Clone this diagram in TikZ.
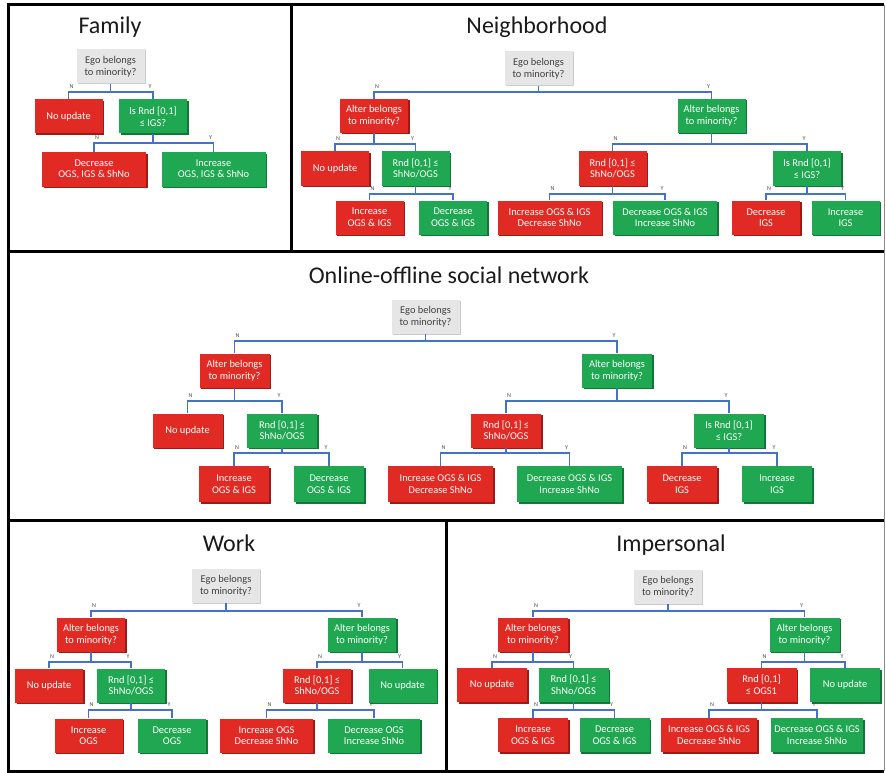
\documentclass[tikz,border=0pt]{standalone}
\usepackage{fontspec}
\setmainfont{Carlito}
\usetikzlibrary{shadows}
\definecolor{boxred}{HTML}{E12A24}
\definecolor{boxredd}{HTML}{9E1A16}
\definecolor{boxgreen}{HTML}{1FA851}
\definecolor{boxgreend}{HTML}{127636}
\definecolor{boxgray}{HTML}{E6E6E6}
\definecolor{conncol}{HTML}{4472C4}
\definecolor{titlecol}{HTML}{1A1A1A}
\tikzset{
  box/.style={rectangle, minimum height=34pt, minimum width=68pt, inner sep=1pt,
    align=center, font=\fontsize{10.4}{11.6}\selectfont, text=white},
  redbox/.style={box, fill=boxred, drop shadow={shadow xshift=1.5pt, shadow yshift=-1.5pt, fill=boxredd, opacity=1}},
  greenbox/.style={box, fill=boxgreen, drop shadow={shadow xshift=1.5pt, shadow yshift=-1.5pt, fill=boxgreend, opacity=1}},
  graybox/.style={box, fill=boxgray, text=black!75, drop shadow={shadow xshift=1pt, shadow yshift=-1pt, fill=black!20, opacity=1}},
  wide/.style={minimum width=104pt},
  conn/.style={draw=conncol, line width=1.3pt},
  yn/.style={font=\fontsize{6}{6.5}\selectfont, text=black!70, inner sep=0pt},
  ttl/.style={font=\fontsize{24}{26}\selectfont, text=titlecol, inner sep=0pt},
  frame/.style={line width=3pt, black},
}
\newcommand{\fork}[4]{%
  \coordinate (#1bar) at (0,#4);
  \draw[conn] (#1.south) -- (#1.south |- #1bar);
  \draw[conn] (#2.north) |- (#3.north |- #1bar) -- (#3.north);
  \node[yn] (#1N) at ([xshift=3pt,yshift=5.5pt]#2.north |- #1bar) {N};
  \node[yn] (#1Y) at ([xshift=-3pt,yshift=5.5pt]#3.north |- #1bar) {Y};
}
\begin{document}
\begin{tikzpicture}[x=1pt,y=-1pt]
\useasboundingbox (0,0) rectangle (886,773);
\fill[white] (0,0) rectangle (886,773);
% frames
\draw[black!45, line width=0.8pt] (884,5) -- (884,771);
\draw[frame] (884,5) -- (8,5) -- (8,771) -- (884,771);
\draw[frame] (291,5) -- (291,251.5);
\draw[frame] (8,251.5) -- (884,251.5);
\draw[frame] (8,520) -- (884,520);
\draw[frame] (446.5,520) -- (446.5,771);

% ---------------- Family
\node[ttl] (tf) at (110,27) {Family};
\node[graybox] (fe) at (110.5,66.5) {Ego belongs\\to minority?};
\node[redbox] (fn) at (68.5,116.5) {No update};
\node[greenbox] (fr) at (153,116.5) {Is Rnd [0,1]\\≤ IGS?};
\node[redbox, wide] (fd) at (94,169.5) {Decrease\\OGS, IGS \& ShNo};
\node[greenbox, wide] (fi) at (213.5,169.5) {Increase\\OGS, IGS \& ShNo};
\fork{fe}{fn}{fr}{92}
\fork{fr}{fd}{fi}{143}

% ---------------- Neighborhood
\node[ttl] (tn) at (537,27) {Neighborhood};
\node[graybox] (ne) at (538.5,68.5) {Ego belongs\\to minority?};
\node[redbox] (na) at (374,116) {Alter belongs\\to minority?};
\node[greenbox] (nb) at (711.5,116) {Alter belongs\\to minority?};
\node[redbox] (nn) at (335,168.5) {No update};
\node[greenbox] (nr) at (415.5,168.5) {Rnd [0,1] ≤\\ShNo/OGS};
\node[redbox] (nrr) at (612.5,168.5) {Rnd [0,1] ≤\\ShNo/OGS};
\node[greenbox] (ni) at (807,168.5) {Is Rnd [0,1]\\≤ IGS?};
\node[redbox] (na1) at (369.5,217.5) {Increase\\OGS \& IGS};
\node[greenbox] (na2) at (453,217.5) {Decrease\\OGS \& IGS};
\node[redbox, wide] (na3) at (549.5,217.5) {Increase OGS \& IGS\\Decrease ShNo};
\node[greenbox, wide] (na4) at (665,217.5) {Decrease OGS \& IGS\\Increase ShNo};
\node[redbox] (na5) at (766,217.5) {Decrease\\IGS};
\node[greenbox] (na6) at (845.5,217.5) {Increase\\IGS};
\fork{ne}{na}{nb}{92}
\fork{na}{nn}{nr}{144}
\fork{nb}{nrr}{ni}{144}
\fork{nr}{na1}{na2}{194}
\fork{nrr}{na3}{na4}{194}
\fork{ni}{na5}{na6}{194}

% ---------------- Online-offline social network
\node[ttl] (to) at (449,275) {Online-offline social network};
\node[graybox] (oe) at (425.5,316.5) {Ego belongs\\to minority?};
\node[redbox, minimum width=70pt] (oa) at (234.5,370.5) {Alter belongs\\to minority?};
\node[greenbox, minimum width=70pt] (ob) at (617,370.5) {Alter belongs\\to minority?};
\node[redbox, minimum width=70pt] (on) at (187.5,430.5) {No update};
\node[greenbox, minimum width=70pt] (orr) at (282,430.5) {Rnd [0,1] ≤\\ShNo/OGS};
\node[redbox, minimum width=70pt] (or2) at (506,430.5) {Rnd [0,1] ≤\\ShNo/OGS};
\node[greenbox, minimum width=70pt] (oi) at (729,430.5) {Is Rnd [0,1]\\≤ IGS?};
\node[redbox, minimum width=70pt, minimum height=36pt] (o1) at (234,484) {Increase\\OGS \& IGS};
\node[greenbox, minimum width=70pt, minimum height=36pt] (o2) at (329,484) {Decrease\\OGS \& IGS};
\node[redbox, minimum width=105pt, minimum height=36pt] (o3) at (440.5,484) {Increase OGS \& IGS\\Decrease ShNo};
\node[greenbox, minimum width=105pt, minimum height=36pt] (o4) at (569.5,484) {Decrease OGS \& IGS\\Increase ShNo};
\node[redbox, minimum width=70pt, minimum height=36pt] (o5) at (682,484) {Decrease\\IGS};
\node[greenbox, minimum width=70pt, minimum height=36pt] (o6) at (777,484) {Increase\\IGS};
\fork{oe}{oa}{ob}{341}
\fork{oa}{on}{orr}{401}
\fork{ob}{or2}{oi}{401}
\fork{orr}{o1}{o2}{453}
\fork{or2}{o3}{o4}{453}
\fork{oi}{o5}{o6}{453}

% ---------------- Work
\node[ttl] (tw) at (229,543) {Work};
\node[graybox] (we) at (226,586) {Ego belongs\\to minority?};
\node[redbox] (wa) at (91,634.5) {Alter belongs\\to minority?};
\node[greenbox] (wb) at (362,634.5) {Alter belongs\\to minority?};
\node[redbox] (wn) at (49,685.5) {No update};
\node[greenbox] (wr) at (131,685.5) {Rnd [0,1] ≤\\ShNo/OGS};
\node[redbox] (wr2) at (317,685.5) {Rnd [0,1] ≤\\ShNo/OGS};
\node[greenbox] (wn2) at (402.5,685.5) {No update};
\node[redbox] (w1) at (88.5,735.5) {Increase\\OGS};
\node[greenbox] (w2) at (172,735.5) {Decrease\\OGS};
\node[redbox, minimum width=93pt] (w3) at (266.5,735.5) {Increase OGS\\Decrease ShNo};
\node[greenbox, minimum width=92pt] (w4) at (374,735.5) {Decrease OGS\\Increase ShNo};
\fork{we}{wa}{wb}{611}
\fork{wa}{wn}{wr}{662}
\fork{wb}{wr2}{wn2}{662}
\fork{wr}{w1}{w2}{710}
\fork{wr2}{w3}{w4}{710}

% ---------------- Impersonal
\node[ttl] (ti) at (671,545) {Impersonal};
\node[graybox] (ie) at (668,587) {Ego belongs\\to minority?};
\node[redbox, minimum width=70pt] (ia) at (533,634.5) {Alter belongs\\to minority?};
\node[greenbox, minimum width=70pt] (ib) at (804.5,634.5) {Alter belongs\\to minority?};
\node[redbox, minimum width=70pt] (ino) at (492,685) {No update};
\node[greenbox, minimum width=70pt] (ir) at (573.5,685) {Rnd [0,1] ≤\\ShNo/OGS};
\node[redbox, minimum width=70pt] (ir2) at (761.5,685) {Rnd [0,1]\\≤ OGS1};
\node[greenbox, minimum width=70pt] (ino2) at (845,685) {No update};
\node[redbox, minimum width=70pt] (i1) at (533,735) {Increase\\OGS \& IGS};
\node[greenbox, minimum width=70pt] (i2) at (614.5,735) {Decrease\\OGS \& IGS};
\node[redbox, minimum width=96pt] (i3) at (709,735) {Increase OGS \& IGS\\Decrease ShNo};
\node[greenbox, minimum width=92pt] (i4) at (817,735) {Decrease OGS \& IGS\\Increase ShNo};
\fork{ie}{ia}{ib}{611}
\fork{ia}{ino}{ir}{662}
\fork{ib}{ir2}{ino2}{662}
\fork{ir}{i1}{i2}{710}
\fork{ir2}{i3}{i4}{710}
\end{tikzpicture}
\end{document}
